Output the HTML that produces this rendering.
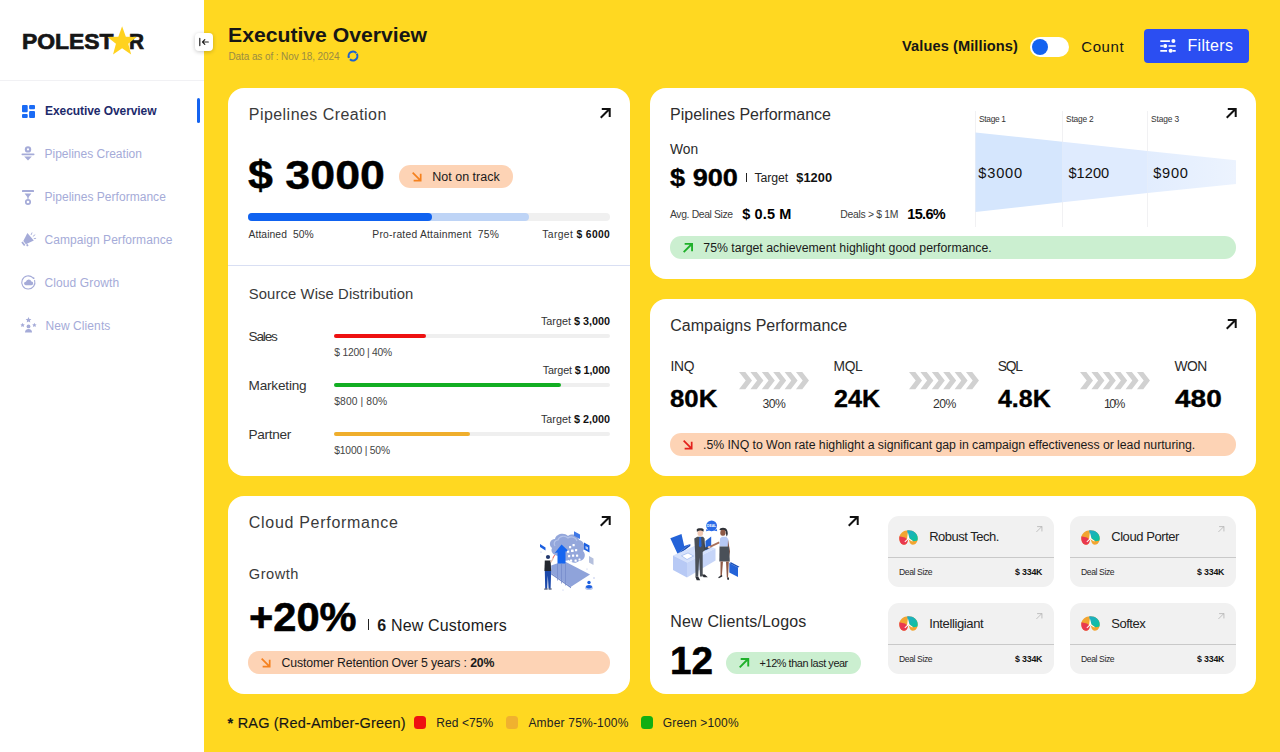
<!DOCTYPE html>
<html lang="en">
<head>
<meta charset="utf-8">
<title>Executive Overview</title>
<style>
*{box-sizing:border-box;margin:0;padding:0}
html,body{width:1280px;height:752px;overflow:hidden}
body{position:relative;background:#FFD821;font-family:"Liberation Sans",sans-serif;color:#111}
.abs,.t,.card{position:absolute}
.t{white-space:nowrap;line-height:1;color:#111}
.b,.t b{font-weight:700}
.card{background:#fff;border-radius:16px}
svg{position:absolute;overflow:visible}
</style>
</head>
<body>

<!-- SIDEBAR -->
<div class="abs" style="left:0px;top:0px;width:204px;height:752px;background:#fff;border-radius:0px;"></div>
<div class="abs" style="left:0px;top:80px;width:204px;height:1px;background:#F1F1F4;border-radius:0px;"></div>
<div class="t b" id="logo1" style="left:22.3px;top:31.9px;font-size:21.5px;color:#161616;transform:scaleX(1.064);transform-origin:0 0;-webkit-text-stroke:.7px #161616">POLEST</div>
<div class="t b" id="logo2" style="left:128.6px;top:31.9px;font-size:21.5px;color:#161616;transform:scaleX(0.966);transform-origin:0 0;-webkit-text-stroke:.7px #161616">R</div>
<svg style="left:106.800px;top:26px" width="30.200" height="29.200" viewBox="0 0 29 28"><polygon points="14.5,0.3 18.1,10.2 28.6,10.6 20.4,17.1 23.2,27.3 14.5,21.4 5.8,27.3 8.6,17.1 0.4,10.6 10.9,10.2" fill="#FFD21F"/></svg>
<div class="abs" style="left:195px;top:32.5px;width:18px;height:18px;background:#fff;border-radius:4px;box-shadow:0 1px 4px rgba(0,0,0,.22)"></div>
<svg style="left:199px;top:38px" width="10" height="8" viewBox="0 0 10 8" fill="none" stroke="#222" stroke-width="1.2" stroke-linecap="round" stroke-linejoin="round"><path d="M0.8 0.4v7.2M9.3 4H3.6M5.8 1.7 3.5 4l2.3 2.3"/></svg>
<div class="abs" style="left:197px;top:98px;width:3px;height:25px;background:#1463F0;border-radius:2px;"></div>
<svg style="left:22px;top:104.5px" width="13" height="13" viewBox="0 0 13 13" fill="#1A6BF5"><rect x="0" y="0" width="5.7" height="7.3" rx="1"/><rect x="7.1" y="0" width="5.9" height="4.3" rx="1"/><rect x="0" y="8.9" width="5.7" height="4.1" rx="1"/><rect x="7.1" y="5.9" width="5.9" height="7.1" rx="1"/></svg>
<div class="t b" id="nav0" style="left:45.0px;top:104.9px;font-size:12px;color:#1D2A6B;letter-spacing:-0.07px">Executive Overview</div>
<div class="t" id="nav1" style="left:44.5px;top:147.8px;font-size:12px;color:#A5ABD8">Pipelines Creation</div>
<div class="t" id="nav2" style="left:44.5px;top:190.8px;font-size:12px;color:#A5ABD8;letter-spacing:0.03px">Pipelines Performance</div>
<div class="t" id="nav3" style="left:44.5px;top:233.8px;font-size:12px;color:#A5ABD8;letter-spacing:0.06px">Campaign Performance</div>
<div class="t" id="nav4" style="left:44.5px;top:276.8px;font-size:12px;color:#A5ABD8;letter-spacing:0.11px">Cloud Growth</div>
<div class="t" id="nav5" style="left:45.4px;top:319.8px;font-size:12px;color:#A5ABD8;letter-spacing:0.09px">New Clients</div>
<svg style="left:21px;top:146px" width="14" height="15" viewBox="0 0 14 15" fill="#A5ABD8"><circle cx="7" cy="3.4" r="3.2"/><rect x="0.5" y="7.6" width="13" height="1.6" rx=".8"/><path d="M3.2 10.4h7.6L7 14.6z"/><circle cx="7" cy="3.4" r="1.1" fill="#fff"/></svg>
<svg style="left:22px;top:189.500px" width="12" height="15" viewBox="0 0 12 15" fill="#A5ABD8"><rect x="0" y="0" width="12" height="2.100" rx=".6"/><path d="M2.600 3.600h6.800L6.700 7v1.800H5.300V7z"/><circle cx="6" cy="12" r="2.200" fill="none" stroke="#A5ABD8" stroke-width="1.700"/></svg>
<svg style="left:21px;top:232px" width="15" height="15" viewBox="0 0 15 15" fill="#A5ABD8"><path d="M6.400 1 12.800 8.600 4.900 12.300 2.300 9z"/><path d="M1.700 9.500l2.700 3.500-1.400 1.100L.3 10.600z"/><path d="M5 12.800l1.100 1.600 1.500-.9-1-1.500z"/><g stroke="#A5ABD8" stroke-width=".9" stroke-linecap="round"><path d="M10.200 2.600l.7-1.700M12.200 4.200l1.700-1.300M13.200 6.600l1.500-.2"/></g></svg>
<svg style="left:21px;top:275px" width="15" height="15" viewBox="0 0 15 15" fill="none" stroke="#A5ABD8" stroke-width="1.1"><path d="M11.8 2.6A6.6 6.6 0 1 0 13.6 5.4" stroke-linecap="round"/><circle cx="12.6" cy="3.2" r=".9" fill="#A5ABD8" stroke="none"/><path d="M4.6 10.2h5.6a1.9 1.9 0 0 0 .2-3.8 2.9 2.9 0 0 0-5.5.4 1.7 1.7 0 0 0-.3 3.4z" fill="#A5ABD8" stroke="none"/></svg>
<svg style="left:20px;top:317px" width="17" height="16" viewBox="0 0 17 16" fill="#A5ABD8"><circle cx="8.5" cy="9.4" r="1.9"/><path d="M5 15.6a3.5 3.5 0 0 1 7 0z"/><path d="M8.5 0l.9 1.9 2 .2-1.5 1.4.4 2-1.8-1-1.8 1 .4-2L5.6 2.100l2-.2z"/><path d="M2.600 5.800l.7 1.400 1.500.2-1.100 1.100.3 1.500-1.400-.7-1.400.7.300-1.500L.4 7.400l1.500-.2z"/><path d="M14.400 5.800l.7 1.400 1.500.2-1.100 1.100.3 1.500-1.400-.7-1.400.7.300-1.500-1.100-1.100 1.500-.2z"/></svg>
<!-- HEADER -->
<div class="t b" id="h1" style="left:227.8px;top:25.3px;font-size:20px;color:#161616;transform:scaleX(1.059);transform-origin:0 0">Executive Overview</div>
<div class="t" id="h2" style="left:228.5px;top:51.9px;font-size:10px;color:#9A8C42;letter-spacing:-0.10px">Data as of : Nov 18, 2024</div>
<svg style="left:347px;top:49.900px" width="12" height="12" viewBox="0 0 12 12" fill="none"><circle cx="6" cy="6" r="4.400" stroke="#1C62D0" stroke-width="2.100" stroke-dasharray="12.200 1.620" transform="rotate(-30 6 6)"/></svg>
<div class="t b" id="vm" style="left:902.0px;top:39.3px;font-size:14.6px;color:#161616;letter-spacing:0.10px">Values (Millions)</div>
<div class="abs" style="left:1030px;top:36.6px;width:39px;height:20.4px;background:#fff;border-radius:10.2px;"></div>
<div class="abs" style="left:1032px;top:38.8px;width:16.2px;height:16.2px;background:#1463F0;border-radius:8.1px;"></div>
<div class="t" id="cnt" style="left:1081.3px;top:39.1px;font-size:15px;color:#161616;letter-spacing:0.57px">Count</div>
<div class="abs" style="left:1144px;top:29.4px;width:105px;height:33.2px;background:#2B4EF2;border-radius:4px;"></div>
<svg style="left:1159.500px;top:39px" width="16" height="14" viewBox="0 0 16 14" fill="none" stroke="#fff" stroke-width="1.700"><path d="M0.3 2.100h9.600M0.3 7h3M8.500 7h7.200M0.3 11.800h6.800M12.500 11.800h3.200"/><circle cx="13.400" cy="2.100" r="2" fill="#fff" stroke="none"/><circle cx="5.200" cy="7" r="2" fill="#fff" stroke="none"/><circle cx="10.600" cy="11.800" r="2" fill="#fff" stroke="none"/></svg>
<div class="t" id="flt" style="left:1187.5px;top:38.2px;font-size:16px;color:#fff;letter-spacing:0.32px">Filters</div>
<!-- CARD 1: Pipelines Creation -->
<div class="card" style="left:228px;top:88px;width:402px;height:388px"></div>
<div class="t" id="c1t" style="left:248.8px;top:106.9px;font-size:16px;color:#3a3a3a;letter-spacing:0.45px">Pipelines Creation</div>
<svg style="left:599.6px;top:108.2px" width="10.5" height="10.5" viewBox="0 0 10 10" fill="none" stroke="#111" stroke-width="1.9"><path d="M0.7 9.300 9 1M1.700 0.95h7.550v7.550"/></svg>
<div class="t b" id="c1v" style="left:247.6px;top:153.6px;font-size:41.5px;color:#000;transform:scaleX(1.079);transform-origin:0 0;-webkit-text-stroke:.4px #000">$ 3000</div>
<div class="abs" style="left:398.8px;top:165.2px;width:114px;height:22.6px;background:#FDD3B5;border-radius:11.3px;"></div>
<svg style="left:411.8px;top:172.2px" width="9.6" height="9.6" viewBox="0 0 10 10" fill="none" stroke="#F5811E" stroke-width="1.8"><path d="M0.7 0.7 9 9M1.700 9.050h7.350V1.700"/></svg>
<div class="t" id="c1b" style="left:432.3px;top:170.8px;font-size:12.5px;color:#1a1a1a">Not on track</div>
<div class="abs" style="left:248px;top:213px;width:362px;height:8px;background:#F0F0F0;border-radius:4px;"></div>
<div class="abs" style="left:248px;top:213px;width:280.8px;height:8px;background:#BED4F6;border-radius:4px;"></div>
<div class="abs" style="left:248px;top:213px;width:183.6px;height:8px;background:#0F62F0;border-radius:4px;"></div>
<div class="t" id="c1l1" style="left:248.5px;top:230.3px;font-size:10.3px;color:#333;letter-spacing:0.09px">Attained&nbsp; 50%</div>
<div class="t" id="c1l2" style="left:372.3px;top:230.3px;font-size:10.3px;color:#333;letter-spacing:0.24px">Pro-rated Attainment&nbsp; 75%</div>
<div class="t" id="c1l3" style="right:669.8px;top:230.3px;font-size:10.3px;color:#333;letter-spacing:0.38px">Target <b style="color:#111">$ 6000</b></div>
<div class="abs" style="left:228px;top:265px;width:402px;height:1px;background:#D9DFF3;border-radius:0px;"></div>
<div class="t" id="c1s" style="left:248.8px;top:286.6px;font-size:14.8px;color:#3a3a3a;letter-spacing:0.11px">Source Wise Distribution</div>
<div class="t" id="r0a" style="left:248.6px;top:330.2px;font-size:13.6px;color:#333;letter-spacing:-1.18px">Sales</div>
<div class="t" id="r0t" style="right:670.0px;top:315.6px;font-size:10.8px;color:#333">Target <b style="color:#111">$ 3,000</b></div>
<div class="abs" style="left:334px;top:334px;width:276px;height:4.2px;background:#EFEFEF;border-radius:2.1px;"></div>
<div class="abs" style="left:334px;top:334px;width:92px;height:4.2px;background:#EE1111;border-radius:2.1px;"></div>
<div class="t" id="r0v" style="left:334.3px;top:348.2px;font-size:10.3px;color:#444;letter-spacing:-0.23px">$ 1200 | 40%</div>
<div class="t" id="r1a" style="left:248.6px;top:379.2px;font-size:13.6px;color:#333;letter-spacing:-0.21px">Marketing</div>
<div class="t" id="r1t" style="right:670.0px;top:364.6px;font-size:10.8px;color:#333;letter-spacing:-0.12px">Target <b style="color:#111">$ 1,000</b></div>
<div class="abs" style="left:334px;top:383px;width:276px;height:4.2px;background:#EFEFEF;border-radius:2.1px;"></div>
<div class="abs" style="left:334px;top:383px;width:226.5px;height:4.2px;background:#12AE22;border-radius:2.1px;"></div>
<div class="t" id="r1v" style="left:334.3px;top:397.2px;font-size:10.3px;color:#444;letter-spacing:0.10px">$800 | 80%</div>
<div class="t" id="r2a" style="left:248.6px;top:428.2px;font-size:13.6px;color:#333;letter-spacing:-0.33px">Partner</div>
<div class="t" id="r2t" style="right:670.0px;top:413.6px;font-size:10.8px;color:#333">Target <b style="color:#111">$ 2,000</b></div>
<div class="abs" style="left:334px;top:432px;width:276px;height:4.2px;background:#EFEFEF;border-radius:2.1px;"></div>
<div class="abs" style="left:334px;top:432px;width:136px;height:4.2px;background:#EFAE2C;border-radius:2.1px;"></div>
<div class="t" id="r2v" style="left:334.3px;top:446.2px;font-size:10.3px;color:#444;letter-spacing:-0.19px">$1000 | 50%</div>
<!-- CARD 2: Pipelines Performance -->
<div class="card" style="left:650px;top:88px;width:606px;height:191px"></div>
<div class="t" id="c2t" style="left:670.0px;top:107.2px;font-size:16px;color:#2e2e2e">Pipelines Performance</div>
<svg style="left:1226.1px;top:107.8px" width="10.5" height="10.5" viewBox="0 0 10 10" fill="none" stroke="#111" stroke-width="1.9"><path d="M0.7 9.300 9 1M1.700 0.95h7.550v7.550"/></svg>
<div class="t" id="c2w" style="left:670.0px;top:142.7px;font-size:13.8px;color:#2a2a2a;letter-spacing:0.04px">Won</div>
<div class="t b" id="c2v" style="left:670.0px;top:166.1px;font-size:24.2px;color:#000;transform:scaleX(1.123);transform-origin:0 0;-webkit-text-stroke:.35px #000">$ 900</div>
<div class="abs" style="left:745.7px;top:173.3px;width:1.4px;height:9.2px;background:#222;border-radius:0px;"></div>
<div class="t" id="c2tg" style="left:754.6px;top:172.0px;font-size:12.3px;color:#222;letter-spacing:-0.12px">Target</div>
<div class="t b" id="c2tv" style="left:796.2px;top:171.6px;font-size:12.8px;letter-spacing:0.10px">$1200</div>
<div class="t" id="c2a1" style="left:670.0px;top:209.8px;font-size:10.4px;color:#3c3c3c;letter-spacing:-0.37px">Avg. Deal Size</div>
<div class="t b" id="c2a2" style="left:742.3px;top:207.1px;font-size:14.5px;color:#000;letter-spacing:0.11px">$ 0.5 M</div>
<div class="t" id="c2a3" style="left:840.3px;top:209.8px;font-size:10.4px;color:#3c3c3c;letter-spacing:-0.30px">Deals &gt; $ 1M</div>
<div class="t b" id="c2a4" style="left:907.3px;top:207.1px;font-size:14.5px;color:#000;letter-spacing:-0.68px">15.6%</div>
<div class="abs" style="left:670px;top:236.3px;width:566px;height:22.6px;background:#CBEFD0;border-radius:11.3px;"></div>
<svg style="left:682.9px;top:243.3px" width="9.8" height="9.8" viewBox="0 0 10 10" fill="none" stroke="#1FB02A" stroke-width="1.9"><path d="M0.7 9.300 9 1M1.700 0.95h7.550v7.550"/></svg>
<div class="t" id="c2p" style="left:703.3px;top:241.7px;font-size:12.3px;color:#1a1a1a">75% target achievement highlight good performance.</div>
<div class="abs" style="left:975px;top:111px;width:1px;height:116px;background:#F1F1F3;border-radius:0px;"></div>
<div class="abs" style="left:1062px;top:111px;width:1px;height:116px;background:#F1F1F3;border-radius:0px;"></div>
<div class="abs" style="left:1147px;top:111px;width:1px;height:116px;background:#F1F1F3;border-radius:0px;"></div>
<svg style="left:975px;top:130px" width="262" height="84" viewBox="0 0 262 84">
<defs><linearGradient id="fg3" x1="0" x2="1" y1="0" y2="0"><stop offset="0" stop-color="#E2EDFE"/><stop offset="1" stop-color="#ECF3FE"/></linearGradient></defs>
<polygon points="0.5,2.500 87.500,11.800 87.500,72.300 0.5,82" fill="#D5E6FD"/>
<polygon points="87.500,11.800 172.500,20.900 172.500,62.900 87.500,72.300" fill="#DFEBFE"/>
<polygon points="172.500,20.900 261,30.300 261,54 172.500,62.900" fill="url(#fg3)"/>
</svg>
<div class="t" id="st1" style="left:979.0px;top:115.2px;font-size:8.4px;color:#333;letter-spacing:-0.31px">Stage 1</div>
<div class="t" id="st2" style="left:1066.0px;top:115.2px;font-size:8.4px;color:#333;letter-spacing:-0.21px">Stage 2</div>
<div class="t" id="st3" style="left:1151.0px;top:115.2px;font-size:8.4px;color:#333;letter-spacing:-0.11px">Stage 3</div>
<div class="t" id="fv1" style="left:978.3px;top:166.3px;font-size:14.6px;letter-spacing:0.80px">$3000</div>
<div class="t" id="fv2" style="left:1068.4px;top:166.3px;font-size:14.6px;letter-spacing:0.05px">$1200</div>
<div class="t" id="fv3" style="left:1153.3px;top:166.3px;font-size:14.6px;letter-spacing:0.71px">$900</div>
<!-- CARD 3: Campaigns Performance -->
<div class="card" style="left:650px;top:299px;width:606px;height:177px"></div>
<div class="t" id="c3t" style="left:670.3px;top:318.1px;font-size:16px;color:#2e2e2e">Campaigns Performance</div>
<svg style="left:1226.1px;top:319px" width="10.5" height="10.5" viewBox="0 0 10 10" fill="none" stroke="#111" stroke-width="1.9"><path d="M0.7 9.300 9 1M1.700 0.95h7.550v7.550"/></svg>
<div class="t" id="s0a" style="left:670.4px;top:359.9px;font-size:13.8px;color:#2a2a2a;letter-spacing:-0.27px">INQ</div>
<div class="t b" id="s0v" style="left:670.4px;top:386.9px;font-size:24.2px;color:#000;transform:scaleX(1.066);transform-origin:0 0;-webkit-text-stroke:.35px #000">80K</div>
<div class="t" id="s1a" style="left:833.5px;top:359.9px;font-size:13.8px;color:#2a2a2a;letter-spacing:-0.30px">MQL</div>
<div class="t b" id="s1v" style="left:833.5px;top:386.9px;font-size:24.2px;color:#000;transform:scaleX(1.037);transform-origin:0 0;-webkit-text-stroke:.35px #000">24K</div>
<div class="t" id="s2a" style="left:997.7px;top:359.9px;font-size:13.8px;color:#2a2a2a;letter-spacing:-1.20px">SQL</div>
<div class="t b" id="s2v" style="left:997.7px;top:386.9px;font-size:24.2px;color:#000;transform:scaleX(1.031);transform-origin:0 0;-webkit-text-stroke:.35px #000">4.8K</div>
<div class="t" id="s3a" style="left:1174.6px;top:359.9px;font-size:13.8px;color:#2a2a2a;letter-spacing:-0.56px">WON</div>
<div class="t b" id="s3v" style="left:1174.6px;top:386.9px;font-size:24.2px;color:#000;transform:scaleX(1.160);transform-origin:0 0;-webkit-text-stroke:.35px #000">480</div>
<svg style="left:739px;top:372.200px" width="70" height="17.200" viewBox="0 0 70 17.200" fill="#D1D1D1"><path d="M0.0 0h6.300l6.700 8.600-6.700 8.600H0.0l6.700-8.600z"/><path d="M11.4 0h6.300l6.700 8.600-6.700 8.600H11.4l6.700-8.600z"/><path d="M22.8 0h6.300l6.700 8.600-6.700 8.600H22.8l6.700-8.600z"/><path d="M34.2 0h6.300l6.700 8.600-6.700 8.600H34.2l6.700-8.600z"/><path d="M45.6 0h6.300l6.700 8.600-6.700 8.600H45.6l6.700-8.600z"/><path d="M57.0 0h6.300l6.700 8.600-6.700 8.600H57.0l6.700-8.600z"/></svg>
<div class="t" id="cp0" style="left:762.6px;top:397.9px;font-size:12.2px;color:#333;letter-spacing:-0.60px">30%</div>
<svg style="left:909.2px;top:372.200px" width="70" height="17.200" viewBox="0 0 70 17.200" fill="#D1D1D1"><path d="M0.0 0h6.300l6.700 8.600-6.700 8.600H0.0l6.700-8.600z"/><path d="M11.4 0h6.300l6.700 8.600-6.700 8.600H11.4l6.700-8.600z"/><path d="M22.8 0h6.300l6.700 8.600-6.700 8.600H22.8l6.700-8.600z"/><path d="M34.2 0h6.300l6.700 8.600-6.700 8.600H34.2l6.700-8.600z"/><path d="M45.6 0h6.300l6.700 8.600-6.700 8.600H45.6l6.700-8.600z"/><path d="M57.0 0h6.300l6.700 8.600-6.700 8.600H57.0l6.700-8.600z"/></svg>
<div class="t" id="cp1" style="left:933.1px;top:397.9px;font-size:12.2px;color:#333;letter-spacing:-0.60px">20%</div>
<svg style="left:1079.8px;top:372.200px" width="70" height="17.200" viewBox="0 0 70 17.200" fill="#D1D1D1"><path d="M0.0 0h6.300l6.700 8.600-6.700 8.600H0.0l6.700-8.600z"/><path d="M11.4 0h6.300l6.700 8.600-6.700 8.600H11.4l6.700-8.600z"/><path d="M22.8 0h6.300l6.700 8.600-6.700 8.600H22.8l6.700-8.600z"/><path d="M34.2 0h6.300l6.700 8.600-6.700 8.600H34.2l6.700-8.600z"/><path d="M45.6 0h6.300l6.700 8.600-6.700 8.600H45.6l6.700-8.600z"/><path d="M57.0 0h6.300l6.700 8.600-6.700 8.600H57.0l6.700-8.600z"/></svg>
<div class="t" id="cp2" style="left:1104.0px;top:397.9px;font-size:12.2px;color:#333;letter-spacing:-1.55px">10%</div>
<div class="abs" style="left:670px;top:433.1px;width:566px;height:22.6px;background:#FDD3B5;border-radius:11.3px;"></div>
<svg style="left:683px;top:440.2px" width="9.6" height="9.6" viewBox="0 0 10 10" fill="none" stroke="#E3211C" stroke-width="1.8"><path d="M0.7 0.7 9 9M1.700 9.050h7.350V1.700"/></svg>
<div class="t" id="c3p" style="left:703.0px;top:439.1px;font-size:12.3px;color:#1a1a1a;letter-spacing:-0.04px">.5% INQ to Won rate highlight a significant gap in campaign effectiveness or lead nurturing.</div>
<!-- CARD 4: Cloud Performance -->
<div class="card" style="left:228px;top:496px;width:402px;height:198px"></div>
<div class="t" id="c4t" style="left:248.8px;top:514.6px;font-size:16px;color:#3a3a3a;letter-spacing:0.70px">Cloud Performance</div>
<svg style="left:599.7px;top:516px" width="10.5" height="10.5" viewBox="0 0 10 10" fill="none" stroke="#111" stroke-width="1.9"><path d="M0.7 9.300 9 1M1.700 0.95h7.550v7.550"/></svg>
<div class="t" id="c4g" style="left:248.8px;top:567.2px;font-size:14.6px;color:#3a3a3a;letter-spacing:0.51px">Growth</div>
<div class="t b" id="c4v" style="left:249.3px;top:596.6px;font-size:41.4px;color:#000;transform:scaleX(1.005);transform-origin:0 0;-webkit-text-stroke:.6px #000">+20%</div>
<div class="abs" style="left:367.7px;top:619.4px;width:1.4px;height:10.8px;background:#222;border-radius:0px;"></div>
<div class="t" id="c4n" style="left:377.3px;top:618.0px;font-size:16px;color:#1a1a1a;letter-spacing:0.16px"><b>6</b> New Customers</div>
<div class="abs" style="left:248px;top:651.2px;width:362px;height:22.5px;background:#FDD3B5;border-radius:11.25px;"></div>
<svg style="left:261px;top:657.8px" width="9.6" height="9.6" viewBox="0 0 10 10" fill="none" stroke="#F5811E" stroke-width="1.8"><path d="M0.7 0.7 9 9M1.700 9.050h7.350V1.700"/></svg>
<div class="t" id="c4p" style="left:281.5px;top:657.2px;font-size:12.3px;color:#1a1a1a;letter-spacing:-0.14px">Customer Retention Over 5 years : <b>20%</b></div>
<svg style="left:536px;top:528px" width="62" height="66" viewBox="536 528 62 66">
<polygon points="551.200,565.500 564,561 590,574.500 571,586.800 551.200,573" fill="#8FA3DA"/>
<polygon points="551.200,573 571,586.800 571,588.300 551.200,574.500" fill="#7288C8"/>
<path d="M552 548c-4-3-2-9 3-9 1-5 9-7 13-3 4-3 10-1 11 4 5 1 7 7 4 11 4 4 1 10-4 10-3 3-8 2-10-1-4 2-9 0-10-4-5 0-9-4-7-8z" fill="#94A7DB"/>
<path d="M555 546c-2-3 0-6 3-6 1-4 7-5 10-2 3-2 8-1 9 3" fill="none" stroke="#B4C3EA" stroke-width="1.200"/>
<polygon points="561.500,544.500 568.500,551 565.500,551.500 565.500,563.500 557.500,563.500 557.500,552.500 554.800,553" fill="#1565F0"/>
<g stroke="#7288C8" stroke-width=".7"><path d="M557.500 563.500v17M561.500 563.500v20M565.500 563.500v22"/></g>
<g fill="#fff"><rect x="569" y="546" width="2.200" height="2.200" rx=".5"/><rect x="572.500" y="544" width="2.200" height="2.200" rx=".5"/><rect x="567" y="550.500" width="2.200" height="2.200" rx=".5"/><rect x="571" y="549.500" width="2.600" height="2.600" rx=".5"/><rect x="575" y="549" width="2.200" height="2.200" rx=".5"/><rect x="568" y="555" width="2.200" height="2.200" rx=".5"/><rect x="572" y="554.500" width="2.200" height="2.200" rx=".5"/><rect x="576" y="554.500" width="2.200" height="2.200" rx=".5"/><rect x="570" y="559.500" width="2.200" height="2.200" rx=".5"/><rect x="574.500" y="559.500" width="2.200" height="2.200" rx=".5"/><rect x="578.500" y="558.500" width="2" height="2" rx=".5"/></g>
<polygon points="540,544 545.500,547.500 545.500,550.500 540,547" fill="#1B5FE0"/>
<polygon points="574,531.200 580,534.500 580,539 574,535.700" fill="#3F78E6"/>
<path d="M584 542.500l5.500 3v7l-5.500-3z" fill="#1B5FE0"/><path d="M585.500 546l2.500 1.300v2.400l-2.500-1.300z" fill="#BCD0F8"/>
<polygon points="589,556 593.500,558.500 593.500,565 589,562.500" fill="#B5C0DD"/>
<ellipse cx="589" cy="587.800" rx="4" ry="2.300" fill="#B9C8EE"/><ellipse cx="589" cy="586.800" rx="3" ry="1.700" fill="#1B5FE0"/><circle cx="589" cy="582.500" r="1.700" fill="#1B5FE0"/>
<circle cx="548" cy="557" r="2.100" fill="#22386E"/>
<path d="M544.800 560.500h5.800l.6 10.500h-6.800z" fill="#23272F"/>
<path d="M550.200 561.500l2.800-3.500.8.600-2.600 4.500z" fill="#E7C3B0"/><path d="M552.800 558.300l1.800-3.200" stroke="#E8443F" stroke-width=".9"/>
<path d="M544.800 571h6.400l-.6 17.500h-2l-.8-13-.6 13h-2z" fill="#1C49AA"/>
<path d="M544.600 588.400h3v1.200h-3.600zM548.600 588.400h3v1.200h-3z" fill="#13234F"/>
<g fill="#A9B8E6"><circle cx="541" cy="552" r=".6"/><circle cx="582" cy="546" r=".6"/><circle cx="594" cy="578" r=".7"/><circle cx="563" cy="590" r=".5"/><circle cx="587" cy="569" r=".5"/></g>
</svg>
<!-- CARD 5: New Clients / Logos -->
<div class="card" style="left:650px;top:496px;width:606px;height:198px"></div>
<svg style="left:847.9px;top:515.6px" width="10.5" height="10.5" viewBox="0 0 10 10" fill="none" stroke="#111" stroke-width="1.9"><path d="M0.7 9.300 9 1M1.700 0.95h7.550v7.550"/></svg>
<div class="t" id="c5t" style="left:670.3px;top:614.3px;font-size:16px;color:#2a2a2a;letter-spacing:0.16px">New Clients/Logos</div>
<div class="t b" id="c5v" style="left:669.5px;top:641.6px;font-size:38.8px;color:#000;transform:scaleX(0.996);transform-origin:0 0;-webkit-text-stroke:.6px #000">12</div>
<div class="abs" style="left:726.2px;top:652px;width:134.8px;height:21.8px;background:#CBEFD0;border-radius:10.9px;"></div>
<svg style="left:738.9px;top:657.6px" width="10" height="10" viewBox="0 0 10 10" fill="none" stroke="#1FB02A" stroke-width="1.9"><path d="M0.7 9.300 9 1M1.700 0.95h7.550v7.550"/></svg>
<div class="t" id="c5p" style="left:759.6px;top:658.4px;font-size:10.9px;color:#1a1a1a;letter-spacing:-0.44px">+12% than last year</div>
<svg style="left:668px;top:518px" width="74" height="66" viewBox="668 518 74 66">
<polygon points="670.300,538.200 681.500,534 684.200,546 690.300,544 677.500,553.800" fill="#2463D8"/>
<polygon points="677.500,553.800 690.300,544 690.300,546 677.500,555.500" fill="#1A4FB8"/>
<polygon points="673,555.500 700,543.500 715.500,548.500 687,562.500" fill="#D5E1FB"/>
<polygon points="673,555.500 687,562.500 687,577.500 673,570" fill="#B7C9F5"/>
<polygon points="687,562.500 715.500,548.500 715.500,560.500 687,577.500" fill="#C6D5F8"/>
<polygon points="681.500,555.800 688,553 693.500,556 687,559.500" fill="#fff" stroke="#7FA0E8" stroke-width=".5"/>
<polygon points="705.500,541 711.200,536.500 711.200,547.500 705.500,550.500" fill="#2463D8"/>
<circle cx="711.600" cy="525.800" r="5.400" fill="#2B6BE8"/><polygon points="706.500,529 706,531.200 709.500,530.500" fill="#2B6BE8"/><polygon points="716.700,529 717.200,531.200 713.700,530.500" fill="#2B6BE8"/>
<text x="711.600" y="526.900" font-family="Liberation Sans, sans-serif" font-size="3.300" font-weight="700" fill="#fff" text-anchor="middle">DEAL</text>
<path d="M696.800 529.500c0-1.600 6.800-1.600 6.800 0v2h-6.800z" fill="#2E3138"/>
<rect x="697.500" y="530.500" width="5.600" height="5.600" rx="2.300" fill="#F0C7B2"/>
<path d="M694.300 538.500l3-1.700h5.800l1.500 1.700.6 11.500-2.500 2v24.500h-2.700l-.8-19-1 19h-2.700l-.4-24z" fill="#4A5058"/>
<path d="M699.300 537h1.800l.5 9-1.400 1.500-1.300-1.500z" fill="#2463D8"/>
<path d="M703 541l2.500 6.500 4.500-1.500.4 1.500-6 3z" fill="#3E444C"/>
<path d="M695.200 576.500h3l2 3.800h-3.500zM702 574.500h2.800l3 2.700h-4.300z" fill="#2A2D33"/>
<path d="M709.500 546l9.500-4.500.7 1.700-9.500 4.600z" fill="#A8705A"/>
<circle cx="709.200" cy="547.300" r="1.300" fill="#F0C7B2"/>
<path d="M719.500 530c0-2.700 6.500-3 7.500 0 1 2.500 1.200 5-.5 6.500l-1-5.500z" fill="#2E3138"/>
<rect x="720.300" y="529.800" width="5.200" height="6" rx="2.300" fill="#8E5A47"/>
<path d="M720 538.500l2-1.700h4.200l2 2.200.8 7.500h-9.500z" fill="#B7C9F5"/>
<path d="M728 539.500l2 12-1.200 6.500-1.200-6z" fill="#8E5A47"/>
<path d="M719.500 546.500h9.500l.8 15h-10.500z" fill="#4A5058"/>
<path d="M720.500 561.500h2.500l-1.200 14.500h-1.300zM726 561.500h2.800l-.8 16h-1.200z" fill="#8E5A47"/>
<path d="M718.200 577.200l3.800-2.500.3 1.700-3.400 1.800zM727 577.500h2v2.300h-1.600z" fill="#2A2D33"/>
<polygon points="729.300,563 738,567.500 738,577 729.300,572.500" fill="#2463D8"/>
<polygon points="729.300,563 731,562.300 739.500,566.800 738,567.500" fill="#1A4FB8"/>
</svg>
<div class="abs" style="left:888px;top:516.3px;width:166px;height:70.4px;background:#F1F1F1;border-radius:11px;"></div>
<div class="abs" style="left:888px;top:556.9px;width:166px;height:1px;background:#C9C9C9;border-radius:0px;"></div>
<svg style="left:898.6px;top:529.5999999999999px" width="19" height="15" viewBox="0 0 19 15">
<defs><clipPath id="lg1"><path d="M.3 8.300C.3 3.400 4.400.2 9.500.2s9.200 3.200 9.200 8.100c0 3.600-2 6.500-4.700 6.500-2 0-3.300-1.500-3.600-3.300L9.500 8.800l-.9 2.700c-.3 1.800-1.600 3.300-3.600 3.300C2.300 14.800.3 11.900.3 8.300z"/></clipPath>
<linearGradient id="lt1" x1="0" y1="0" x2=".6" y2="1"><stop offset="0" stop-color="#22A9CC"/><stop offset="1" stop-color="#0EC29C"/></linearGradient></defs>
<g clip-path="url(#lg1)"><rect width="19" height="15" fill="#F2A531"/><polygon points="0,6.300 6,7.500 8.800,10 8.800,15 0,15" fill="#E9384F"/><polygon points="8,0 19,0 19,10.500 14.500,11.200 10.500,8.500 8.600,3" fill="url(#lt1)"/>
<path d="M8.900 2.200l1.500 6.400 3.300 2.300-.5.700-3.500-2-1.100.3-2.500 2.300-.6-.6 2.600-2.700z" fill="#fff"/></g></svg>
<div class="t" id="tl0n" style="left:929.2px;top:530.2px;font-size:13px;color:#222;letter-spacing:-0.49px">Robust Tech.</div>
<svg style="left:1035.9px;top:525.9px" width="6.4" height="6.4" viewBox="0 0 10 10" fill="none" stroke="#ABABAB" stroke-width="1.1"><path d="M0.7 9.300 9 1M1.700 0.95h7.550v7.550"/></svg>
<div class="t" id="tl0d" style="left:899.0px;top:568.0px;font-size:8.6px;color:#2a2a2a;letter-spacing:-0.40px">Deal Size</div>
<div class="t b" id="tl0v" style="right:237.8px;top:567.9px;font-size:8.8px;letter-spacing:-0.21px">$ 334K</div>
<div class="abs" style="left:1070px;top:516.3px;width:166px;height:70.4px;background:#F1F1F1;border-radius:11px;"></div>
<div class="abs" style="left:1070px;top:556.9px;width:166px;height:1px;background:#C9C9C9;border-radius:0px;"></div>
<svg style="left:1080.6px;top:529.5999999999999px" width="19" height="15" viewBox="0 0 19 15">
<defs><clipPath id="lg2"><path d="M.3 8.300C.3 3.400 4.400.2 9.500.2s9.200 3.200 9.200 8.100c0 3.600-2 6.500-4.700 6.500-2 0-3.300-1.500-3.600-3.300L9.500 8.800l-.9 2.700c-.3 1.800-1.600 3.300-3.600 3.300C2.300 14.800.3 11.900.3 8.300z"/></clipPath>
<linearGradient id="lt2" x1="0" y1="0" x2=".6" y2="1"><stop offset="0" stop-color="#22A9CC"/><stop offset="1" stop-color="#0EC29C"/></linearGradient></defs>
<g clip-path="url(#lg2)"><rect width="19" height="15" fill="#F2A531"/><polygon points="0,6.300 6,7.500 8.800,10 8.800,15 0,15" fill="#E9384F"/><polygon points="8,0 19,0 19,10.500 14.500,11.200 10.500,8.500 8.600,3" fill="url(#lt2)"/>
<path d="M8.900 2.200l1.500 6.400 3.300 2.300-.5.700-3.500-2-1.100.3-2.500 2.300-.6-.6 2.600-2.700z" fill="#fff"/></g></svg>
<div class="t" id="tl1n" style="left:1111.2px;top:530.2px;font-size:13px;color:#222;letter-spacing:-0.43px">Cloud Porter</div>
<svg style="left:1217.9px;top:525.9px" width="6.4" height="6.4" viewBox="0 0 10 10" fill="none" stroke="#ABABAB" stroke-width="1.1"><path d="M0.7 9.300 9 1M1.700 0.95h7.550v7.550"/></svg>
<div class="t" id="tl1d" style="left:1081.0px;top:568.0px;font-size:8.6px;color:#2a2a2a;letter-spacing:-0.40px">Deal Size</div>
<div class="t b" id="tl1v" style="right:55.8px;top:567.9px;font-size:8.8px;letter-spacing:-0.21px">$ 334K</div>
<div class="abs" style="left:888px;top:603.1px;width:166px;height:70.80000000000001px;background:#F1F1F1;border-radius:11px;"></div>
<div class="abs" style="left:888px;top:643.7px;width:166px;height:1px;background:#C9C9C9;border-radius:0px;"></div>
<svg style="left:898.6px;top:616.4px" width="19" height="15" viewBox="0 0 19 15">
<defs><clipPath id="lg3"><path d="M.3 8.300C.3 3.400 4.400.2 9.500.2s9.200 3.200 9.200 8.100c0 3.600-2 6.500-4.700 6.500-2 0-3.300-1.500-3.600-3.300L9.500 8.800l-.9 2.700c-.3 1.800-1.600 3.300-3.600 3.300C2.300 14.800.3 11.900.3 8.300z"/></clipPath>
<linearGradient id="lt3" x1="0" y1="0" x2=".6" y2="1"><stop offset="0" stop-color="#22A9CC"/><stop offset="1" stop-color="#0EC29C"/></linearGradient></defs>
<g clip-path="url(#lg3)"><rect width="19" height="15" fill="#F2A531"/><polygon points="0,6.300 6,7.500 8.800,10 8.800,15 0,15" fill="#E9384F"/><polygon points="8,0 19,0 19,10.500 14.500,11.200 10.500,8.500 8.600,3" fill="url(#lt3)"/>
<path d="M8.900 2.200l1.500 6.400 3.300 2.300-.5.700-3.500-2-1.100.3-2.500 2.300-.6-.6 2.600-2.700z" fill="#fff"/></g></svg>
<div class="t" id="tl2n" style="left:929.2px;top:617.0px;font-size:13px;color:#222;letter-spacing:-0.37px">Intelligiant</div>
<svg style="left:1035.9px;top:612.7px" width="6.4" height="6.4" viewBox="0 0 10 10" fill="none" stroke="#ABABAB" stroke-width="1.1"><path d="M0.7 9.300 9 1M1.700 0.95h7.550v7.550"/></svg>
<div class="t" id="tl2d" style="left:899.0px;top:654.8px;font-size:8.6px;color:#2a2a2a;letter-spacing:-0.40px">Deal Size</div>
<div class="t b" id="tl2v" style="right:237.8px;top:654.7px;font-size:8.8px;letter-spacing:-0.21px">$ 334K</div>
<div class="abs" style="left:1070px;top:603.1px;width:166px;height:70.80000000000001px;background:#F1F1F1;border-radius:11px;"></div>
<div class="abs" style="left:1070px;top:643.7px;width:166px;height:1px;background:#C9C9C9;border-radius:0px;"></div>
<svg style="left:1080.6px;top:616.4px" width="19" height="15" viewBox="0 0 19 15">
<defs><clipPath id="lg4"><path d="M.3 8.300C.3 3.400 4.400.2 9.500.2s9.200 3.200 9.200 8.100c0 3.600-2 6.500-4.700 6.500-2 0-3.300-1.500-3.600-3.300L9.500 8.800l-.9 2.700c-.3 1.800-1.600 3.300-3.600 3.300C2.300 14.800.3 11.900.3 8.300z"/></clipPath>
<linearGradient id="lt4" x1="0" y1="0" x2=".6" y2="1"><stop offset="0" stop-color="#22A9CC"/><stop offset="1" stop-color="#0EC29C"/></linearGradient></defs>
<g clip-path="url(#lg4)"><rect width="19" height="15" fill="#F2A531"/><polygon points="0,6.300 6,7.500 8.800,10 8.800,15 0,15" fill="#E9384F"/><polygon points="8,0 19,0 19,10.500 14.500,11.200 10.500,8.500 8.600,3" fill="url(#lt4)"/>
<path d="M8.900 2.200l1.500 6.400 3.300 2.300-.5.700-3.500-2-1.100.3-2.500 2.300-.6-.6 2.600-2.700z" fill="#fff"/></g></svg>
<div class="t" id="tl3n" style="left:1111.2px;top:617.0px;font-size:13px;color:#222;letter-spacing:-0.47px">Softex</div>
<svg style="left:1217.9px;top:612.7px" width="6.4" height="6.4" viewBox="0 0 10 10" fill="none" stroke="#ABABAB" stroke-width="1.1"><path d="M0.7 9.300 9 1M1.700 0.95h7.550v7.550"/></svg>
<div class="t" id="tl3d" style="left:1081.0px;top:654.8px;font-size:8.6px;color:#2a2a2a;letter-spacing:-0.40px">Deal Size</div>
<div class="t b" id="tl3v" style="right:55.8px;top:654.7px;font-size:8.8px;letter-spacing:-0.21px">$ 334K</div>
<!-- FOOTER -->
<div class="t" id="f0" style="left:227.6px;top:716.3px;font-size:14.5px;color:#161616;letter-spacing:0.18px;-webkit-text-stroke:.15px #161616"><b>*</b> RAG (Red-Amber-Green)</div>
<div class="abs" style="left:413.6px;top:716.4px;width:12.6px;height:12.4px;background:#EE1111;border-radius:3.5px;"></div>
<div class="t" id="f1" style="left:436.2px;top:716.8px;font-size:12px;color:#222;letter-spacing:0.09px">Red &lt;75%</div>
<div class="abs" style="left:505.8px;top:716.4px;width:12.6px;height:12.4px;background:#F0B12F;border-radius:3.5px;"></div>
<div class="t" id="f2" style="left:528.4px;top:716.8px;font-size:12px;color:#222;letter-spacing:0.20px">Amber 75%-100%</div>
<div class="abs" style="left:640.6px;top:716.4px;width:12.6px;height:12.4px;background:#12AE12;border-radius:3.5px;"></div>
<div class="t" id="f3" style="left:662.8px;top:716.8px;font-size:12px;color:#222;letter-spacing:0.14px">Green &gt;100%</div>

</body>
</html>
